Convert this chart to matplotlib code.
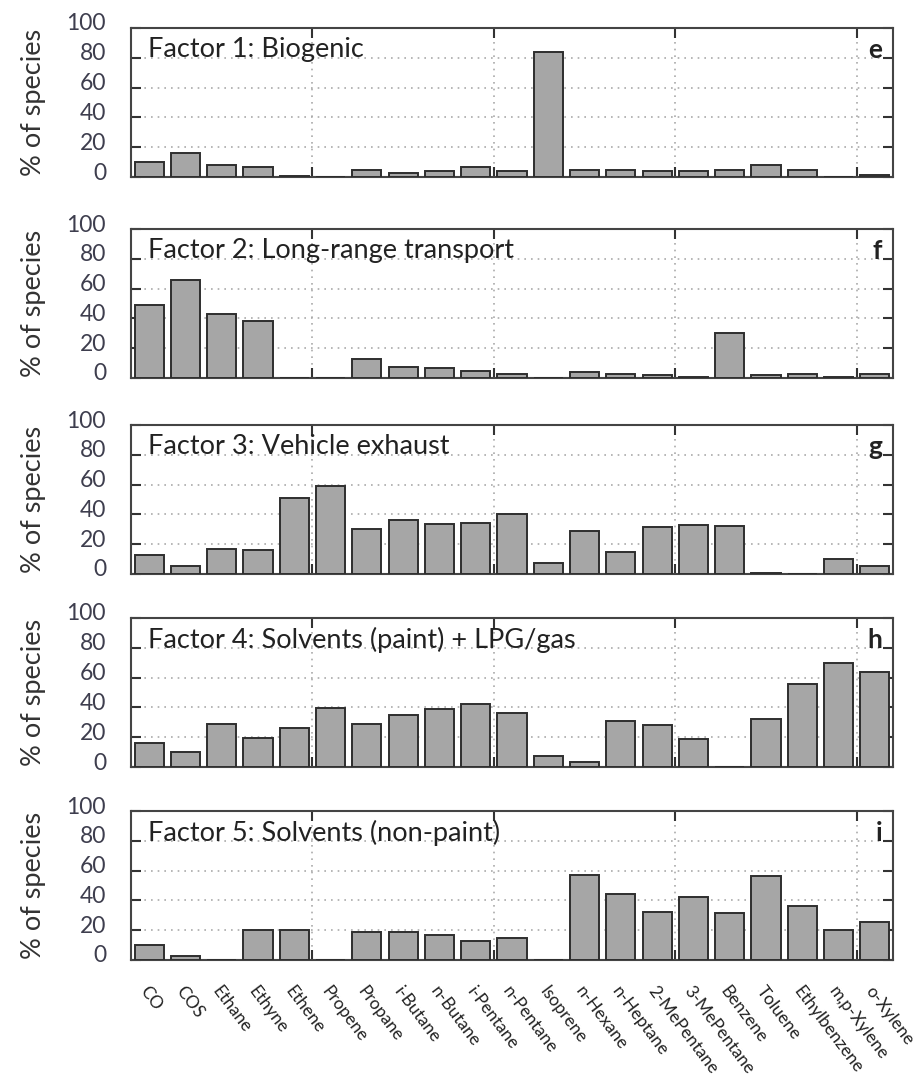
import numpy as np
import matplotlib
matplotlib.use("Agg")
import matplotlib.pyplot as plt
import matplotlib.transforms as mtransforms

species = ["CO", "COS", "Ethane", "Ethyne", "Ethene", "Propene", "Propane",
           "i-Butane", "n-Butane", "i-Pentane", "n-Pentane", "Isoprene",
           "n-Hexane", "n-Heptane", "2-MePentane", "3-MePentane", "Benzene",
           "Toluene", "Ethylbenzene", "m,p-Xylene", "o-Xylene"]

# % of species per factor
biogenic = [10, 16, 8, 7, 1, 0, 5, 3, 4, 6.5, 4, 84, 5, 5, 4, 4, 5, 8, 5, 0, 1.5]
long_range = [49, 66, 43, 38, 0, 0, 13, 7.5, 6.5, 4.5, 3, 0, 4, 3, 2, 1, 30, 2, 3, 1, 3]
vehicle = [13, 5.5, 17, 16, 51, 59, 30.5, 36, 33.5, 34.5, 40.5, 7.5, 29, 15, 31.5, 33, 32, 1, 0, 10, 5.5]
solv_paint = [16, 10, 29, 19.5, 26.5, 39.5, 29, 35, 39, 42.5, 36, 7.5, 3.5, 31, 28.5, 18.5, 0, 32, 56, 70, 64]
solv_nonpaint = [10, 3, 0, 20, 20, 0, 19, 19, 17, 13, 15, 0, 57, 44.5, 32.5, 42, 31.5, 56.5, 36, 20, 25.5]

factors = [biogenic, long_range, vehicle, solv_paint, solv_nonpaint]
titles = ["Factor 1: Biogenic", "Factor 2: Long-range transport",
          "Factor 3: Vehicle exhaust", "Factor 4: Solvents (paint) + LPG/gas",
          "Factor 5: Solvents (non-paint)"]
letters = ["e", "f", "g", "h", "i"]

plt.rcParams['font.family'] = ['Lato', 'DejaVu Sans']

W, H = 917, 1080
fig, axes = plt.subplots(5, 1, figsize=(W / 100, H / 100), dpi=100, sharex=True)

# panel placement in pixels (top edge of each box)
box_tops = [28, 229, 425, 618, 811]
box_h = 149
box_left, box_right = 131, 893

x = np.arange(len(species))
offset = mtransforms.ScaledTranslation(0, 6 / 100, fig.dpi_scale_trans)
xoffset = mtransforms.ScaledTranslation(-6 / 100, 0, fig.dpi_scale_trans)

for ax, top, vals, title, letter in zip(axes, box_tops, factors, titles, letters):
    ax.set_position([box_left / W, 1 - (top + box_h) / H,
                     (box_right - box_left) / W, box_h / H])
    ax.bar(x, vals, width=0.8, color='#a6a6a6', edgecolor='#2e2e2e', linewidth=1.4, zorder=3)
    ax.set_xlim(-0.5, len(species) - 0.5)
    ax.set_ylim(0, 100)
    ax.set_yticks([0, 20, 40, 60, 80, 100])
    ax.set_xticks(x)
    ax.set_xticks([4.5, 9.5, 14.5, 19.5], minor=True)
    ax.tick_params(axis='x', which='major', length=0)
    ax.tick_params(axis='x', which='minor', direction='in', top=True, bottom=True,
                   length=7, width=1.5, color='#333333')
    ax.tick_params(axis='y', direction='in', left=True, right=True, length=7, width=1.5,
                   color='#333333', labelsize=16.5, labelcolor='#3e3e4e', pad=18)
    ax.grid(axis='y', which='major', linestyle=(0, (1, 3)), color='#aaaaaa', linewidth=1.2)
    ax.grid(axis='x', which='minor', linestyle=(0, (1, 3)), color='#aaaaaa', linewidth=1.2)
    for sp in ax.spines.values():
        sp.set_linewidth(1.5)
        sp.set_color('#444444')
    for lab in ax.get_yticklabels():
        lab.set_transform(lab.get_transform() + offset)
    ax.set_ylabel("% of species", fontsize=19.5, color='#333333')
    ax.yaxis.set_label_coords(-0.112, 0.5)
    ax.text(0.022, 0.853, title, transform=ax.transAxes, fontsize=19.5, color='#222222',
            ha='left', va='center', zorder=5)
    ax.text(0.986, 0.853, letter, transform=ax.transAxes, fontsize=19, fontweight='bold',
            color='#222222', ha='right', va='center', zorder=5)

axes[-1].set_xticklabels(species, rotation=-53, ha='left', va='center',
                         rotation_mode='anchor', fontsize=12.5, color='#222222')
axes[-1].tick_params(axis='x', which='major', pad=20)
for lab in axes[-1].get_xticklabels():
    lab.set_transform(lab.get_transform() + xoffset)

fig.savefig("out.png", dpi=100)
